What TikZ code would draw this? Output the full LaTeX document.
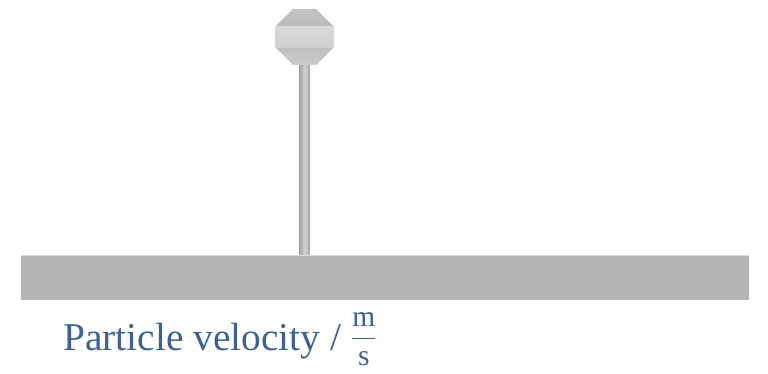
\documentclass[tikz,border=0pt]{standalone}
\usepackage{fontspec}
\usepackage{amsmath}
\setmainfont{Liberation Serif}
\definecolor{labelblue}{RGB}{59,98,145}
\definecolor{groundgray}{RGB}{180,180,180}

\begin{document}
\begin{tikzpicture}
\useasboundingbox (0,0) rectangle (19.2,9.325);
% ground
\fill[groundgray] (0.525,1.825) rectangle (18.725,2.95);
\draw[gray!30, line width=1pt] (0.525,2.94)--(18.725,2.94);
% rod
\shade[left color=gray!75, right color=gray!70, middle color=gray!35] (7.475,2.95) rectangle (7.75,7.75);
% head
\begin{scope}
\clip (6.875,8.65)--(7.325,9.1)--(7.9,9.1)--(8.35,8.65)--(8.35,8.15)--(7.9,7.7)--(7.325,7.7)--(6.875,8.15)--cycle;
\shade[top color=gray!45, bottom color=gray!55] (6.8,8.65) rectangle (8.4,9.2);
\shade[top color=gray!30, bottom color=gray!38] (6.8,8.12) rectangle (8.4,8.65);
\shade[top color=gray!50, bottom color=gray!40] (6.8,7.6) rectangle (8.4,8.12);
\end{scope}
% label
\node[anchor=base west, inner sep=0pt, text=labelblue, font=\fontsize{28}{34}\selectfont] (label) at (1.575,0.575)
  {Particle velocity / \raisebox{3pt}{\fontsize{21}{24}\selectfont$\dfrac{\mathrm{m}}{\mathrm{s}}$}};
\end{tikzpicture}
\end{document}
